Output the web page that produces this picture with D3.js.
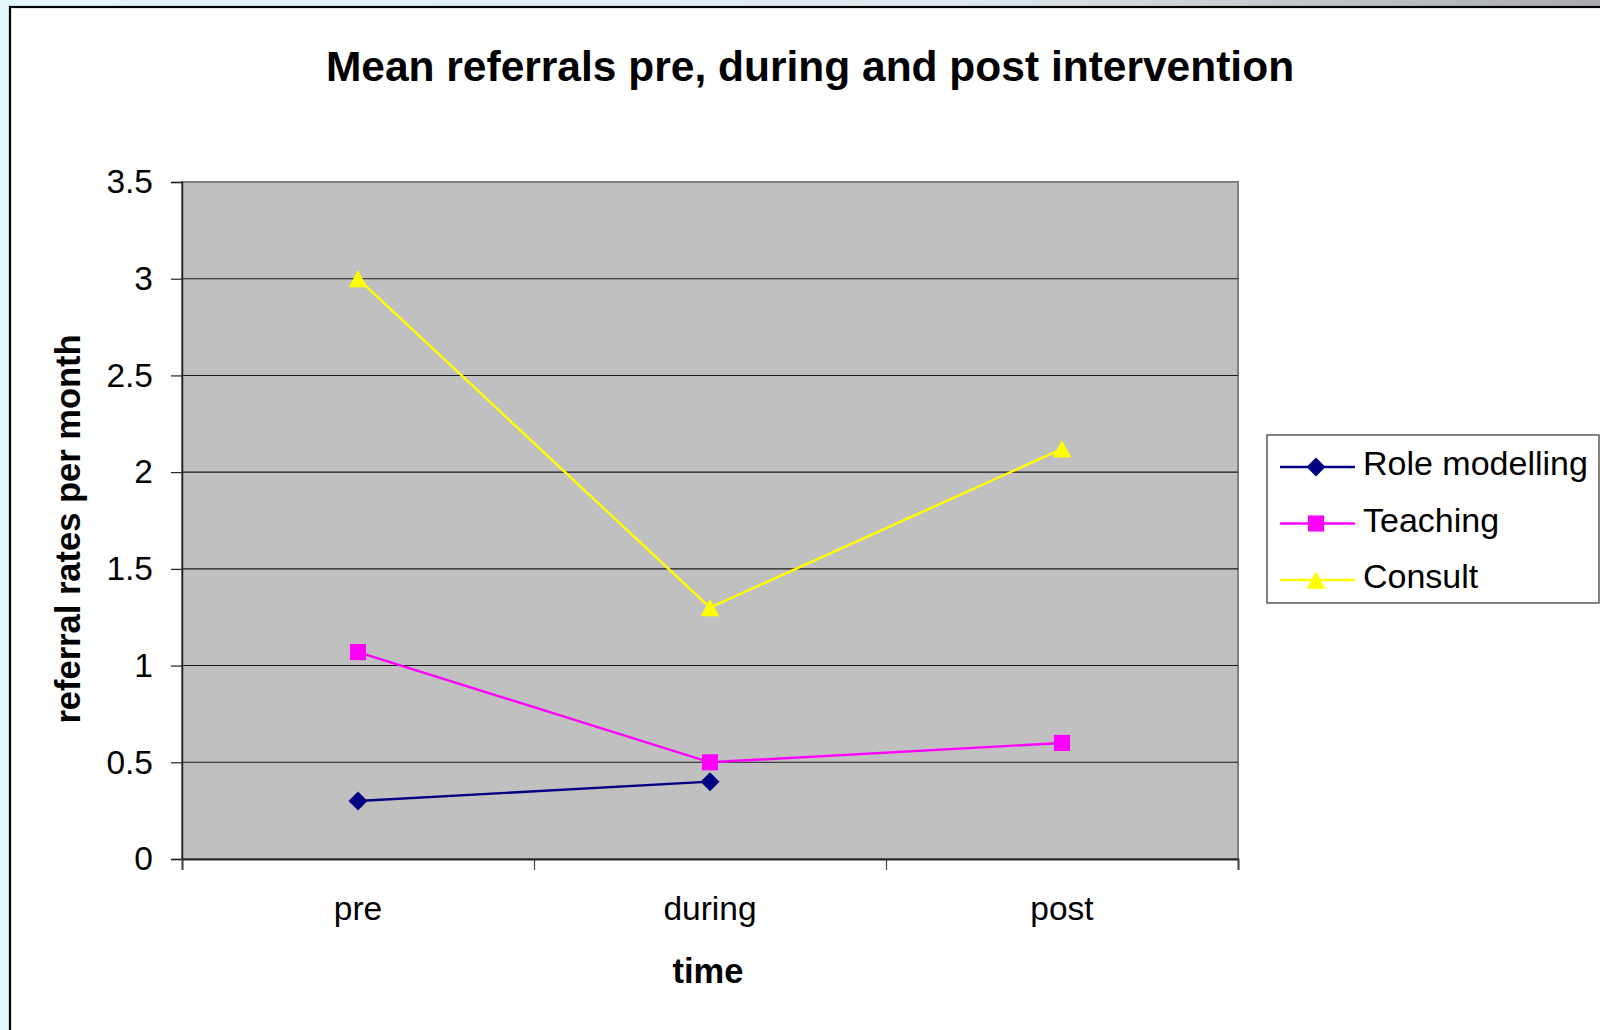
<!DOCTYPE html>
<html>
<head>
<meta charset="utf-8">
<script src="https://cdn.jsdelivr.net/npm/d3@7"></script>
<style>
  html, body { margin: 0; padding: 0; background: #ffffff; }
  svg { display: block; font-family: "Liberation Sans", Arial, Helvetica, sans-serif; }
</style>
</head>
<body>
<svg id="chart" width="1600" height="1030"></svg>
<script>
// Time periods on the x axis
const categories = ["pre", "during", "post"];
// Mean referral rates per month for each intervention (null = no value)
const roleModelling = [0.3, 0.4, null];
const teaching = [1.07, 0.5, 0.6];
const consult = [3.0, 1.3, 2.12];
const seriesNames = ["Role modelling", "Teaching", "Consult"];
const yTicks = [0, 0.5, 1, 1.5, 2, 2.5, 3, 3.5];

const series = [
  { name: seriesNames[0], values: roleModelling, color: "#000080", shape: "diamond" },
  { name: seriesNames[1], values: teaching, color: "#ff00ff", shape: "square" },
  { name: seriesNames[2], values: consult, color: "#ffff00", shape: "triangle" }
];

const svg = d3.select("#chart");

// Soft page backdrop around the chart frame
const defs = svg.append("defs");
const grad = defs.append("linearGradient").attr("id", "topStrip")
  .attr("x1", "0%").attr("x2", "100%").attr("y1", "0%").attr("y2", "0%");
grad.append("stop").attr("offset", "0%").attr("stop-color", "#e2f5f8");
grad.append("stop").attr("offset", "60%").attr("stop-color", "#dfe9ef");
grad.append("stop").attr("offset", "100%").attr("stop-color", "#a9aaae");
svg.append("rect").attr("x", 0).attr("y", 0).attr("width", 1600).attr("height", 1030).attr("fill", "#e2f5f8");
svg.append("rect").attr("x", 0).attr("y", 0).attr("width", 1600).attr("height", 8).attr("fill", "url(#topStrip)");

// Chart frame
svg.append("rect").attr("x", 10).attr("y", 7).attr("width", 1600).attr("height", 1040)
  .attr("fill", "#ffffff").attr("stroke", "#000000").attr("stroke-width", 2.2);

const plot = { left: 182, right: 1238, top: 182, bottom: 859 };

const x = d3.scaleBand().domain(categories).range([plot.left, plot.right]).padding(0);
const xEdges = d3.scaleLinear().domain([0, categories.length]).range([plot.left, plot.right]);
const y = d3.scaleLinear().domain([0, 3.5]).range([plot.bottom, plot.top]);

// Plot area
svg.append("rect")
  .attr("x", plot.left).attr("y", plot.top)
  .attr("width", plot.right - plot.left).attr("height", plot.bottom - plot.top)
  .attr("fill", "#c0c0c0").attr("stroke", "#808080").attr("stroke-width", 2);

// Horizontal gridlines
svg.append("g").selectAll("line")
  .data(yTicks.filter(t => t > 0 && t < 3.5))
  .join("line")
  .attr("x1", plot.left).attr("x2", plot.right)
  .attr("y1", d => y(d)).attr("y2", d => y(d))
  .attr("stroke", "#1a1a1a").attr("stroke-width", 1.1);

// Y axis
const yAxis = svg.append("g")
  .attr("transform", `translate(${plot.left},0)`)
  .call(d3.axisLeft(y).tickValues(yTicks).tickSize(11).tickPadding(18).tickFormat(d3.format("")));
yAxis.select(".domain").attr("stroke", "#222").attr("stroke-width", 1.5);
yAxis.selectAll(".tick line").attr("stroke", "#222").attr("stroke-width", 1.2);
yAxis.selectAll(".tick text")
  .attr("font-size", 33.5).attr("fill", "#000")
  .attr("font-family", "'Liberation Sans', Arial, sans-serif");

// X axis: tick marks at category boundaries
const xTickAxis = svg.append("g")
  .attr("transform", `translate(0,${plot.bottom})`)
  .call(d3.axisBottom(xEdges).tickValues(d3.range(categories.length + 1)).tickSize(11).tickFormat(""));
xTickAxis.select(".domain").attr("stroke", "#222").attr("stroke-width", 1.8);
xTickAxis.selectAll(".tick line").attr("stroke", "#444").attr("stroke-width", 1.2);

// X axis: category labels
const xLabelAxis = svg.append("g")
  .attr("transform", `translate(0,${plot.bottom})`)
  .call(d3.axisBottom(x).tickSize(0).tickPadding(37));
xLabelAxis.select(".domain").remove();
xLabelAxis.selectAll(".tick text")
  .attr("font-size", 33.5).attr("fill", "#000")
  .attr("font-family", "'Liberation Sans', Arial, sans-serif");

const cx = c => x(c) + x.bandwidth() / 2;

// Triangle marker centred on its bounding box (apex up)
const boxTriangle = {
  draw(context, size) {
    const h = Math.sqrt(size);
    const w = h * 1.08;
    context.moveTo(0, -h / 2);
    context.lineTo(w / 2, h / 2);
    context.lineTo(-w / 2, h / 2);
    context.closePath();
  }
};

// Marker shapes
const symbolFor = {
  diamond: d3.symbol().type(d3.symbolDiamond2).size(230),
  square: d3.symbol().type(d3.symbolSquare).size(260),
  triangle: d3.symbol().type(boxTriangle).size(300)
};

const line = d3.line()
  .defined(d => d.v !== null)
  .x(d => cx(d.c))
  .y(d => y(d.v));

series.forEach(s => {
  const pts = categories.map((c, i) => ({ c, v: s.values[i] }));
  svg.append("path")
    .datum(pts)
    .attr("fill", "none")
    .attr("stroke", s.color)
    .attr("stroke-width", 2.4)
    .attr("d", line);
  svg.append("g").selectAll("path")
    .data(pts.filter(d => d.v !== null))
    .join("path")
    .attr("transform", d => `translate(${cx(d.c)},${y(d.v)})`)
    .attr("d", symbolFor[s.shape]())
    .attr("fill", s.color);
});

// Title
svg.append("text")
  .attr("x", 810).attr("y", 81)
  .attr("text-anchor", "middle")
  .attr("font-size", 42.5).attr("font-weight", "bold")
  .text("Mean referrals pre, during and post intervention");

// Axis titles
svg.append("text")
  .attr("x", 708).attr("y", 983)
  .attr("text-anchor", "middle")
  .attr("font-size", 34.5).attr("font-weight", "bold")
  .text("time");

svg.append("text")
  .attr("transform", "translate(80,529) rotate(-90)")
  .attr("text-anchor", "middle")
  .attr("font-size", 34.5).attr("font-weight", "bold")
  .text("referral rates per month");

// Legend
const legend = svg.append("g");
legend.append("rect")
  .attr("x", 1267).attr("y", 435).attr("width", 332).attr("height", 168)
  .attr("fill", "#ffffff").attr("stroke", "#333").attr("stroke-width", 1.2);
const rowY = d3.scalePoint().domain(seriesNames).range([467, 580]);
series.forEach(s => {
  const yy = rowY(s.name);
  legend.append("line")
    .attr("x1", 1280).attr("x2", 1355).attr("y1", yy).attr("y2", yy)
    .attr("stroke", s.color).attr("stroke-width", 2.4);
  legend.append("path")
    .attr("transform", `translate(1316,${yy})`)
    .attr("d", symbolFor[s.shape]())
    .attr("fill", s.color);
  legend.append("text")
    .attr("x", 1363).attr("y", yy + 8)
    .attr("font-size", 34)
    .text(s.name);
});
</script>
</body>
</html>
